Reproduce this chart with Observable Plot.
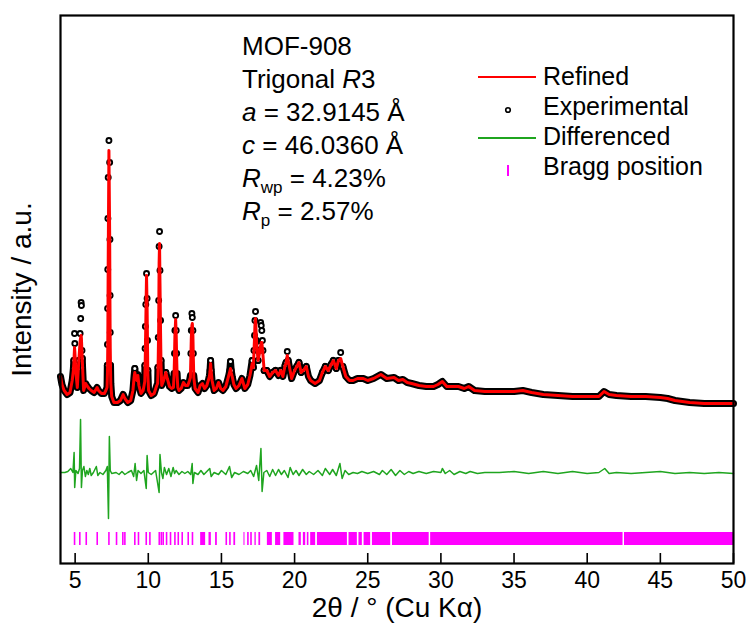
<!DOCTYPE html>
<html>
<head>
<meta charset="utf-8">
<script src="https://cdn.jsdelivr.net/npm/d3@7"></script>
<script src="https://cdn.jsdelivr.net/npm/@observablehq/plot@0.6"></script>
<style>
  html, body { margin: 0; padding: 0; background: #fff; }
</style>
</head>
<body>
<div id="chart"></div>
<script>
// ---------- DATA ----------
const twoTheta = [
  4.00,4.10,4.25,4.45,4.65,4.80,4.88,4.91,4.96,4.98,
  5.03,5.06,5.15,5.22,5.26,5.34,5.38,5.41,5.43,5.47,
  5.49,5.51,5.58,5.72,5.80,5.95,6.10,6.30,6.50,6.60,
  6.80,7.00,7.10,7.18,7.19,7.20,7.21,7.22,7.23,7.24,
  7.26,7.31,7.36,7.38,7.39,7.40,7.42,7.44,7.50,7.65,
  7.90,8.10,8.28,8.40,8.60,8.80,8.95,9.03,9.08,9.14,
  9.22,9.29,9.36,9.50,9.65,9.76,9.77,9.78,9.80,9.83,
  9.88,9.92,9.95,9.97,10.02,10.20,10.40,10.58,10.64,10.66,
  10.68,10.71,10.74,10.77,10.80,10.84,10.87,10.92,11.05,11.20,
  11.30,11.45,11.60,11.72,11.76,11.79,11.82,11.87,11.91,11.94,
  11.97,12.02,12.10,12.25,12.40,12.55,12.70,12.82,12.88,12.91,
  12.94,12.98,13.01,13.05,13.08,13.11,13.20,13.40,13.55,13.70,
  13.85,14.00,14.12,14.18,14.22,14.26,14.30,14.36,14.50,14.65,
  14.80,14.95,15.10,15.30,15.50,15.57,15.62,15.67,15.75,15.85,
  16.00,16.20,16.40,16.60,16.80,16.95,17.10,17.18,17.22,17.26,
  17.29,17.33,17.40,17.50,17.60,17.68,17.72,17.76,17.80,17.84,
  17.92,18.10,18.30,18.50,18.70,18.90,19.05,19.20,19.35,19.42,
  19.50,19.56,19.80,20.00,20.15,20.30,20.45,20.60,20.80,20.95,
  21.10,21.40,21.70,21.90,22.10,22.30,22.50,22.65,22.85,23.00,
  23.15,23.30,23.50,23.75,24.00,24.30,24.70,25.00,25.40,25.90,
  26.30,26.80,27.10,27.40,27.70,28.00,28.50,29.00,29.50,29.80,
  30.10,30.40,30.80,31.20,31.60,31.90,32.30,33.00,34.00,35.00,
  35.60,36.20,37.00,38.00,39.00,40.00,40.80,41.15,41.50,42.00,
  43.00,44.00,45.00,45.50,46.00,47.00,48.00,49.00,50.00
];
const observed = [
  187,179,173,169,171,183,195,203,230,220,
  200,191,176,195,203,230,245,261,258,213,
  205,196,173,180,178,175,173,171,176,173,
  170,170,173,176,185,198,219,255,294,345,
  386,423,401,324,268,231,198,180,167,161,
  161,163,169,165,161,163,173,188,195,185,
  183,189,178,170,173,186,198,215,237,259,
  290,265,223,193,173,168,170,178,180,196,
  226,263,317,332,293,243,203,178,183,191,
  185,177,175,176,190,210,233,248,233,210,
  190,176,173,175,181,178,178,183,188,210,
  233,250,246,233,210,188,175,171,178,180,
  175,178,184,188,193,203,193,183,173,175,
  181,175,173,177,188,193,202,193,186,179,
  175,178,185,175,179,188,203,196,213,228,
  243,252,223,203,218,241,238,233,223,213,
  193,193,187,191,193,188,193,187,198,201,
  212,203,185,193,197,201,191,193,197,187,
  183,180,183,191,197,193,199,203,195,203,
  211,197,187,183,183,185,185,183,185,189,
  185,186,183,184,181,180,178,177,177,179,
  182,177,177,177,175,177,173,172,172,172,
  173,171,169,168,167,167,167,172,169,168,
  167,167,166,165,163,161,160,160,160
];
const calculated = [
  187,179,173,169,171,183,193,200,216,212,
  198,190,176,195,205,222,226,228,225,210,
  204,196,173,180,178,175,173,171,176,173,
  170,170,173,176,180,185,190,200,215,240,
  300,413,330,260,235,215,193,180,167,161,
  161,163,169,165,161,163,173,186,191,185,
  183,188,178,170,173,182,188,195,210,240,
  288,255,215,190,173,168,170,178,180,190,
  205,235,300,320,280,230,198,178,183,191,
  185,177,175,176,188,205,228,244,228,205,
  188,176,173,175,181,178,178,183,186,205,
  225,238,240,228,205,186,175,171,178,180,
  175,178,184,187,192,200,192,183,173,175,
  181,175,173,177,188,192,195,191,186,179,
  175,178,185,175,179,188,200,196,210,225,
  238,245,222,203,210,218,221,221,215,208,
  193,193,187,191,193,188,193,187,198,200,
  208,203,185,193,197,201,191,193,197,187,
  183,180,183,191,197,193,199,203,195,203,
  205,197,187,183,183,185,185,183,185,189,
  185,186,183,184,181,180,178,177,177,179,
  182,177,177,177,175,177,173,172,172,172,
  173,171,169,168,167,167,167,172,169,168,
  167,167,166,165,163,161,160,160,160
];

const diffTheta = [
  4.00,4.30,4.50,4.70,4.85,4.93,4.97,5.05,5.20,5.30,5.37,5.43,5.50,5.60,5.70,5.80,5.90,6.00,6.10,6.25,
  6.45,6.55,6.70,6.90,7.10,7.20,7.28,7.34,7.40,7.50,7.80,8.00,8.20,8.40,8.60,8.85,9.00,9.10,9.20,9.30,
  9.50,9.70,9.86,9.92,10.00,10.20,10.50,10.74,10.80,10.90,11.00,11.10,11.25,11.40,11.55,11.70,11.80,11.90,12.10,12.30,
  12.50,12.70,12.90,13.00,13.05,13.15,13.40,13.60,13.80,14.00,14.20,14.30,14.50,14.80,15.00,15.30,15.55,15.70,15.90,16.20,
  16.50,16.80,17.00,17.20,17.40,17.55,17.70,17.78,17.90,18.10,18.30,18.50,18.70,18.90,19.10,19.30,19.55,19.70,19.90,20.10,
  20.30,20.55,20.80,21.00,21.30,21.60,21.90,22.10,22.40,22.60,22.85,23.10,23.25,23.45,23.70,24.00,24.30,24.60,25.00,25.40,
  25.80,26.00,26.30,26.60,26.90,27.20,27.50,27.80,28.10,28.50,29.00,29.50,30.00,30.10,30.30,30.60,30.90,31.30,31.70,32.00,
  32.50,33.00,34.00,35.00,35.50,36.00,37.00,38.00,39.00,40.00,40.80,41.20,41.50,42.00,43.00,44.00,45.00,46.00,47.00,48.00,
  49.00,50.00
];
const difference = [
  91,91,92,95,91,111,76,93,90,95,144,76,93,97,87,93,89,95,88,91,
  97,88,91,89,93,97,45,127,93,90,91,89,92,89,91,93,87,100,83,93,
  90,93,75,108,91,89,93,71,109,91,85,96,89,95,87,96,90,93,89,92,
  90,92,89,100,80,91,89,93,89,92,95,87,91,89,93,89,97,86,91,89,
  92,90,93,87,98,83,115,72,91,93,87,94,88,94,89,93,86,96,89,93,
  88,94,89,92,89,93,88,95,89,94,88,100,85,93,89,91,90,92,90,92,
  89,93,89,94,88,93,89,92,90,92,90,92,91,95,90,93,89,92,90,92,
  90,91,91,92,91,90,92,90,92,90,91,95,90,91,90,91,92,90,91,90,
  91,90
];

// Bragg reflections: isolated positions and dense (overlapping) ranges
const braggLines = [4.96,5.32,5.76,6.51,7.31,7.83,8.26,8.40,9.08,9.33,9.86,10.11,10.75,10.89,11.02,11.25,11.52,11.82,12.05,12.32,12.73,13.02,15.33,15.58,16.81];
const braggStart = [13.58,14.15,14.60,15.85,16.54,17.00,17.29,17.56,18.14,18.70,19.27,20.30,20.60,20.87,21.10,21.56,23.72,24.40,24.75,25.32,26.69,29.30,42.55];
const braggEnd   = [13.92,14.31,14.72,15.97,16.61,17.11,17.38,17.68,18.48,19.05,19.96,20.46,20.76,20.98,21.44,23.61,24.29,24.63,25.20,26.57,29.20,42.45,50.00];

const xTicks = [5,10,15,20,25,30,35,40,45,50];
const xTitle = "2θ / ° (Cu Kα)";
const yTitle = "Intensity / a.u.";

const annotation = [
  [["MOF-908",""]],
  [["Trigonal ",""],["R","i"],["3",""]],
  [["a","i"],[" = 32.9145 Å",""]],
  [["c","i"],[" = 46.0360 Å",""]],
  [["R","i"],["wp","sub"],[" = 4.23%",""]],
  [["R","i"],["p","sub"],[" = 2.57%",""]]
];
const legendLabels = ["Refined","Experimental","Differenced","Bragg position"];

// ---------- BUILD ----------
const FONT = "'Liberation Sans', Arial, Helvetica, sans-serif";
const RED = "#ff0000", GREEN = "#1fa51f", MAGENTA = "#ff00ff";

const pattern = twoTheta.map((t, i) => ({t, obs: observed[i], calc: calculated[i]}));
const diff = diffTheta.map((t, i) => ({t, d: difference[i]}));
const bands = braggStart.map((s, i) => ({s, e: braggEnd[i]}));

const svg = Plot.plot({
  width: 747,
  height: 630,
  marginLeft: 60,
  marginRight: 14,
  marginTop: 15,
  marginBottom: 67,
  style: {fontFamily: FONT, fontSize: "23px", background: "white", color: "black"},
  x: {domain: [4, 50]},
  y: {domain: [0, 548], axis: null},
  marks: [
    Plot.line(diff, {x: "t", y: "d", stroke: GREEN, strokeWidth: 1.5}),
    Plot.ruleX(braggLines, {x: d => d, y1: 18, y2: 31, stroke: MAGENTA, strokeWidth: 1.6}),
    Plot.rect(bands, {x1: "s", x2: "e", y1: 18, y2: 31, fill: MAGENTA}),
    // dense experimental points merge into a thick band; tall peaks show individual circles
    Plot.line(pattern, {x: "t", y: d => d.obs > 205 ? NaN : d.obs, stroke: "black", strokeWidth: 7, strokeLinejoin: "round", strokeLinecap: "round"}),
    Plot.dot(pattern.filter(d => d.obs > 190), {x: "t", y: "obs", r: 2.5, fill: "white", stroke: "black", strokeWidth: 1.9}),
    Plot.line(pattern, {x: "t", y: "calc", stroke: RED, strokeWidth: 3}),
    Plot.ruleX(xTicks, {x: d => d, y1: 0, y2: 10, stroke: "black", strokeWidth: 1.6}),
    Plot.frame({stroke: "black", strokeWidth: 2.2}),
    Plot.axisX({ticks: xTicks, tickSize: 0, tickPadding: 8, label: null, fontSize: 23}),
    Plot.text([xTitle], {frameAnchor: "bottom", dy: 45, lineAnchor: "middle", textAnchor: "middle", fontSize: 28, fill: "black"}),
    Plot.text([yTitle], {frameAnchor: "left", dx: -38, rotate: -90, textAnchor: "middle", lineAnchor: "middle", fontSize: 28, fill: "black"})
  ]
});

const root = d3.select(svg);

// annotation block
const ann = root.append("g").attr("font-family", FONT).attr("font-size", 26).attr("fill", "black").attr("text-anchor", "start");
annotation.forEach((parts, li) => {
  const t = ann.append("text").attr("x", 242).attr("y", 55 + li * 33);
  let shifted = false;
  parts.forEach(([txt, st]) => {
    const sp = t.append("tspan").text(txt);
    if (st === "i") sp.attr("font-style", "italic");
    if (st === "sub") { sp.attr("font-size", 17).attr("dy", 6); shifted = true; }
    else if (shifted) { sp.attr("dy", -6); shifted = false; }
  });
});

// legend
const lg = root.append("g").attr("font-family", FONT).attr("font-size", 25).attr("fill", "black").attr("text-anchor", "start");
const base = [85, 115, 145, 175];
legendLabels.forEach((lab, i) => {
  lg.append("text").attr("x", 543).attr("y", base[i]).text(lab);
});
lg.append("line").attr("x1", 478).attr("x2", 536).attr("y1", 77).attr("y2", 77).attr("stroke", RED).attr("stroke-width", 2);
lg.append("circle").attr("cx", 508).attr("cy", 110).attr("r", 2.3).attr("fill", "white").attr("stroke", "black").attr("stroke-width", 1.6);
lg.append("line").attr("x1", 478).attr("x2", 536).attr("y1", 138).attr("y2", 138).attr("stroke", GREEN).attr("stroke-width", 2);
lg.append("line").attr("x1", 508).attr("x2", 508).attr("y1", 165).attr("y2", 176).attr("stroke", MAGENTA).attr("stroke-width", 2);

document.getElementById("chart").appendChild(svg);
</script>
</body>
</html>
